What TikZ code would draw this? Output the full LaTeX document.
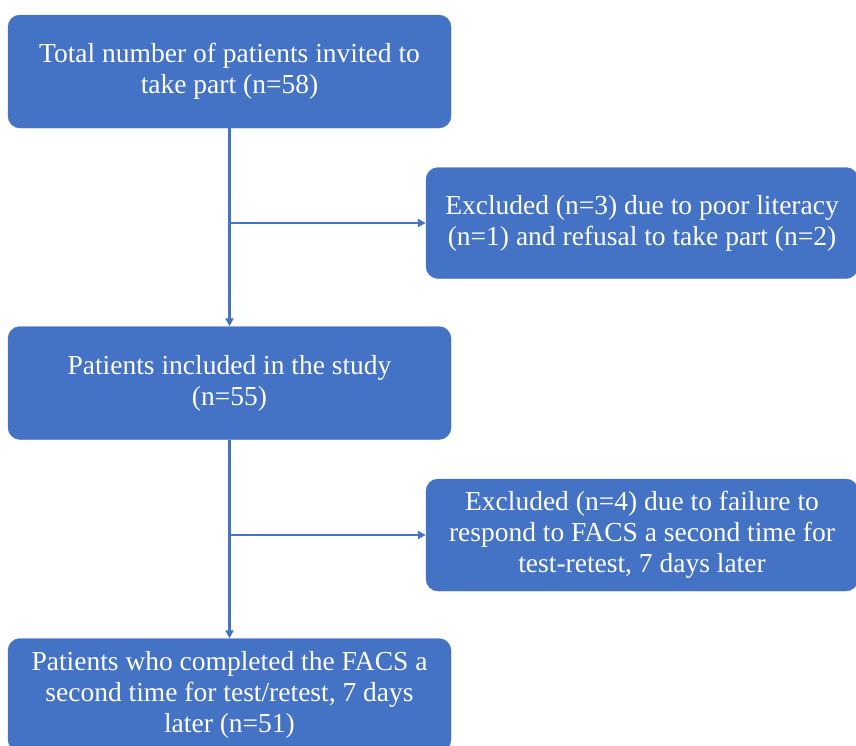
\documentclass[tikz,border=0pt]{standalone}
\usepackage{fontspec}
\setmainfont{Liberation Serif}
\usetikzlibrary{arrows.meta}
\definecolor{flowblue}{HTML}{4472C4}

\tikzset{
  box/.style={rectangle, rounded corners=12pt, fill=flowblue, draw=flowblue,
    text=white, align=center, inner sep=0pt,
    font=\fontsize{27.5}{31}\selectfont},
  mainbox/.style={box, minimum width=443pt, minimum height=113pt},
  sidebox/.style={box, minimum width=432pt, minimum height=111pt},
  arrow/.style={draw=flowblue, line width=2.2pt,
    -{Triangle[length=8pt,width=8pt]}}
}

\begin{document}
\begin{tikzpicture}[x=1pt,y=-1pt]
  \useasboundingbox (0,0) rectangle (856,745);
  \clip (0,0) rectangle (856,745);

  \node[mainbox] (invited) at (229.5,71.5)
    {Total number of patients invited to\\take part (n=58)};
  \node[sidebox] (excl1) at (642,223)
    {Excluded (n=3) due to poor literacy\\(n=1) and refusal to take part (n=2)};
  \node[mainbox] (included) at (229.5,383)
    {Patients included in the study\\(n=55)};
  \node[sidebox, minimum height=112pt] (excl2) at (642,535)
    {Excluded (n=4) due to failure to\\respond to FACS a second time for\\test-retest, 7 days later};
  \node[mainbox] (completed) at (229.5,695)
    {Patients who completed the FACS a\\second time for test/retest, 7 days\\later (n=51)};

  % branch points on the main line
  \coordinate (split1) at (invited.south |- excl1.west);
  \coordinate (split2) at (included.south |- excl2.west);

  \draw[arrow] (invited) -- (included);
  \draw[arrow] (split1) -- (excl1);
  \draw[arrow] (included) -- (completed);
  \draw[arrow] (split2) -- (excl2);
\end{tikzpicture}
\end{document}
